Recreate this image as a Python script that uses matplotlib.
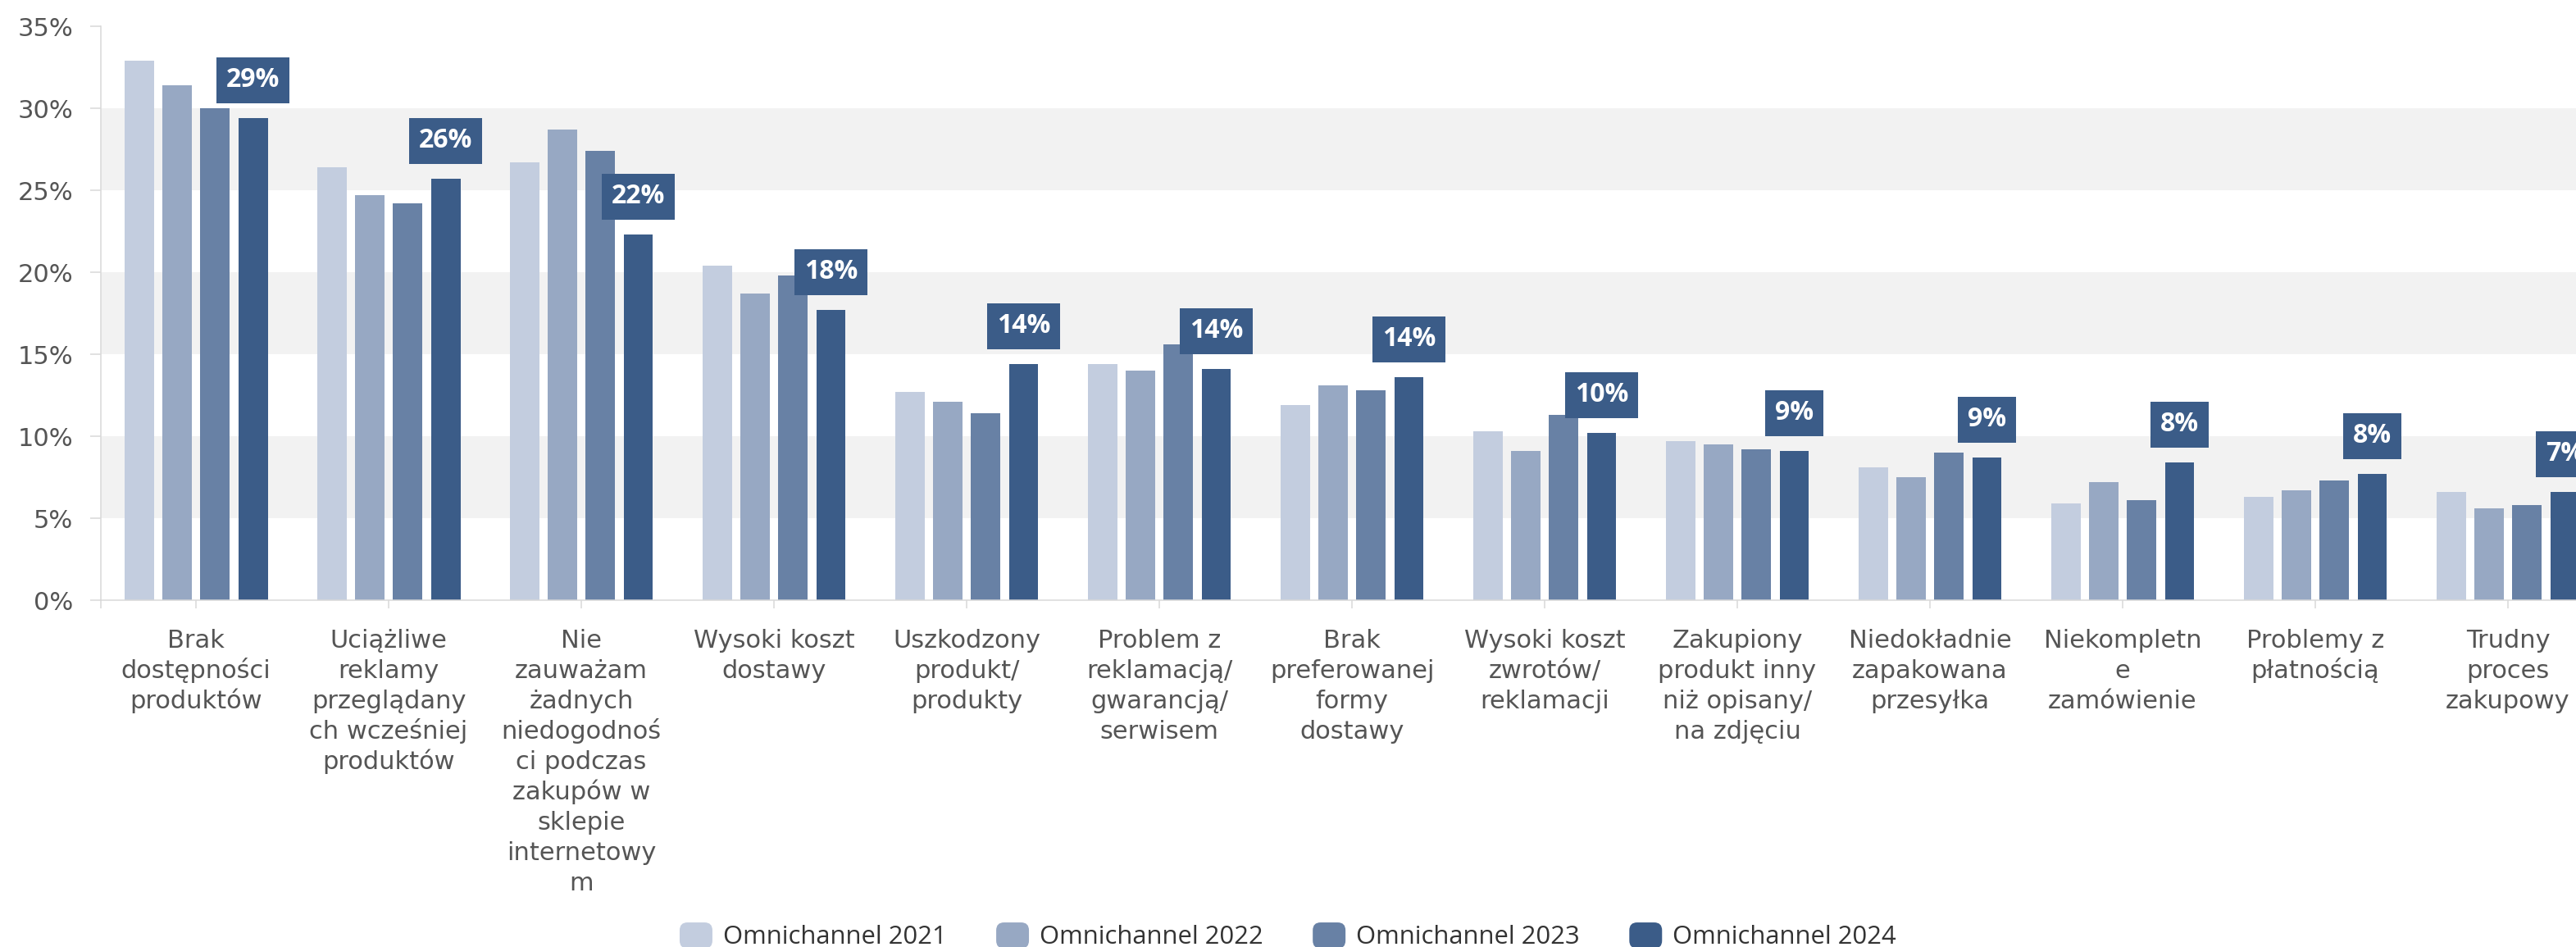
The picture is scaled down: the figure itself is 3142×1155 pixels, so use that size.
import matplotlib
matplotlib.use("Agg")
import matplotlib.pyplot as plt
from matplotlib.patches import FancyBboxPatch, Patch
from matplotlib.legend_handler import HandlerPatch
import numpy as np

# Dane: odsetek wskazań dla kolejnych edycji badania
categories = [
    ["Brak", "dostępności", "produktów"],
    ["Uciążliwe", "reklamy", "przeglądany", "ch wcześniej", "produktów"],
    ["Nie", "zauważam", "żadnych", "niedogodnoś", "ci podczas", "zakupów w",
     "sklepie", "internetowy", "m"],
    ["Wysoki koszt", "dostawy"],
    ["Uszkodzony", "produkt/", "produkty"],
    ["Problem z", "reklamacją/", "gwarancją/", "serwisem"],
    ["Brak", "preferowanej", "formy", "dostawy"],
    ["Wysoki koszt", "zwrotów/", "reklamacji"],
    ["Zakupiony", "produkt inny", "niż opisany/", "na zdjęciu"],
    ["Niedokładnie", "zapakowana", "przesyłka"],
    ["Niekompletn", "e", "zamówienie"],
    ["Problemy z", "płatnością"],
    ["Trudny", "proces", "zakupowy"],
]
series_names = ["Omnichannel 2021", "Omnichannel 2022", "Omnichannel 2023", "Omnichannel 2024"]
v2021 = [32.9, 26.4, 26.7, 20.4, 12.7, 14.4, 11.9, 10.3, 9.7, 8.1, 5.9, 6.3, 6.6]
v2022 = [31.4, 24.7, 28.7, 18.7, 12.1, 14.0, 13.1, 9.1, 9.5, 7.5, 7.2, 6.7, 5.6]
v2023 = [30.0, 24.2, 27.4, 19.8, 11.4, 15.6, 12.8, 11.3, 9.2, 9.0, 6.1, 7.3, 5.8]
v2024 = [29.4, 25.7, 22.3, 17.7, 14.4, 14.1, 13.6, 10.2, 9.1, 8.7, 8.4, 7.7, 6.6]
yticks = [0, 5, 10, 15, 20, 25, 30, 35]

colors = ["#c3cddf", "#97a8c3", "#6881a5", "#3b5c88"]
grey_txt = "#555555"
axis_col = "#d8d8d8"
PX = 0.72  # 1 px w punktach przy dpi=100

fig = plt.figure(figsize=(31.42, 11.55), dpi=100)
ax = fig.add_axes([123 / 3142, (1155 - 732) / 1155, (3142 - 123) / 3142, (732 - 32) / 1155])

x = np.arange(len(categories))
pitch = 0.197
width = 0.153
all_series = [v2021, v2022, v2023, v2024]
for k, vals in enumerate(all_series):
    ax.bar(x + (k - 1.5) * pitch, vals, width=width, color=colors[k], zorder=2,
           label=series_names[k])

# pasy tła
for lo in (5, 15, 25):
    ax.axhspan(lo, lo + 5, color="#f2f2f2", zorder=0, lw=0)

ax.set_xlim(-0.494, 12.353)
ax.set_ylim(0, 35)
ax.set_yticks(yticks)
ax.set_yticklabels([f"{t}%" for t in yticks], fontsize=22, color=grey_txt,
                   family="DejaVu Sans")
ax.set_xticks([-0.494] + list(x))
ax.set_xticklabels([""] * (len(x) + 1))
ax.tick_params(axis="y", length=13 * PX, width=1.1, color=axis_col, pad=15)
ax.tick_params(axis="x", length=10 * PX, width=1.1, color=axis_col)
for s in ("top", "right"):
    ax.spines[s].set_visible(False)
for s in ("left", "bottom"):
    ax.spines[s].set_color(axis_col)
    ax.spines[s].set_linewidth(1.1)

# etykiety kategorii, linia po linii
line_step = 37.0
for i, lines in enumerate(categories):
    for j, txt in enumerate(lines):
        ax.annotate(txt, xy=(i, 0), xycoords=("data", "axes fraction"),
                    xytext=(0, -(58 + j * line_step) * PX), textcoords="offset points",
                    ha="center", va="baseline", fontsize=22, color=grey_txt,
                    family="DejaVu Sans", annotation_clip=False)

# etykiety wartości dla 2024
for i, v in enumerate(v2024):
    ax.annotate(f"{v:.0f}%", xy=(i + 1.5 * pitch, v), xytext=(0, 46 * PX),
                textcoords="offset points", ha="center", va="center",
                fontsize=23, fontweight="bold", color="white", family="Open Sans",
                bbox=dict(boxstyle="square,pad=0.37", fc=colors[3], ec="none"),
                annotation_clip=False, zorder=5)


class RoundedHandler(HandlerPatch):
    def create_artists(self, legend, orig_handle, xdescent, ydescent, width, height,
                       fontsize, trans):
        p = FancyBboxPatch((-xdescent, -ydescent), width, height,
                           boxstyle=f"round,pad=0,rounding_size={height * 0.3}",
                           fc=orig_handle.get_facecolor(), ec="none", transform=trans)
        return [p]


handles = [Patch(color=c) for c in colors]
leg = fig.legend(handles, series_names, loc="center", bbox_to_anchor=(0.5, 0.0115),
                 ncol=4, frameon=False, prop={"family": "Open Sans", "size": 22.3},
                 handlelength=1.29, handleheight=1.2, handletextpad=0.42,
                 columnspacing=1.95, borderpad=0,
                 handler_map={Patch: RoundedHandler()})
for t in leg.get_texts():
    t.set_color("#333333")

fig.savefig("out.png", dpi=100)
